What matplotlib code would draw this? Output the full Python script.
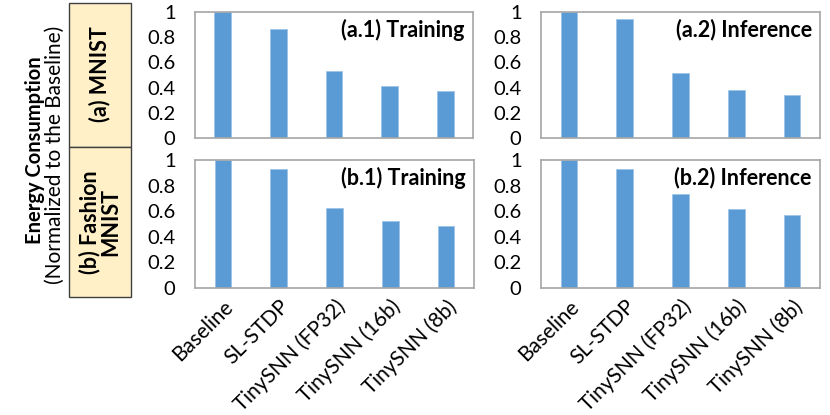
import matplotlib
matplotlib.use("Agg")
import matplotlib.pyplot as plt
from matplotlib.patches import Rectangle
import numpy as np

plt.rcParams['font.family'] = ['Lato', 'DejaVu Sans']

# -------------------------------------------------------------
# data
# -------------------------------------------------------------
methods = ["Baseline", "SL-STDP", "TinySNN (FP32)", "TinySNN (16b)", "TinySNN (8b)"]
mnist_train = [1.0, 0.865, 0.534, 0.415, 0.375]
mnist_infer = [1.0, 0.944, 0.512, 0.381, 0.343]
fashion_train = [1.0, 0.93, 0.624, 0.522, 0.483]
fashion_infer = [1.0, 0.927, 0.738, 0.614, 0.567]
panel_titles = ["(a.1) Training", "(a.2) Inference", "(b.1) Training", "(b.2) Inference"]
yticks = [0, 0.2, 0.4, 0.6, 0.8, 1]
ytick_labels = ["0", "0.2", "0.4", "0.6", "0.8", "1"]

W, H = 830, 415
fig = plt.figure(figsize=(W / 100, H / 100), dpi=100)


def px_axes(x0, y0, x1, y1):
    # pixel box (top-left origin) -> figure axes
    return fig.add_axes([x0 / W, 1 - y1 / H, (x1 - x0) / W, (y1 - y0) / H])


boxes = [(195, 12, 473, 138), (541, 12, 820, 138),
         (195, 160, 474, 288), (541, 160, 820, 288)]
series = [mnist_train, mnist_infer, fashion_train, fashion_infer]

x = np.arange(len(methods))
for i, (b, vals, title) in enumerate(zip(boxes, series, panel_titles)):
    ax = px_axes(*b)
    ax.bar(x, vals, width=0.3, color="#5B9BD5", edgecolor="#9DC3E6", linewidth=0.6)
    ax.set_xlim(-0.5, len(methods) - 0.5)
    ax.set_ylim(0, 1)
    ax.set_yticks(yticks)
    ax.set_yticklabels(ytick_labels)
    ax.tick_params(axis="y", length=0, pad=14, labelsize=14.5)
    ax.tick_params(axis="x", length=0)
    for s in ax.spines.values():
        s.set_color("#A6A6A6")
        s.set_linewidth(1.2)
    ax.text(0.97, 0.86, title, transform=ax.transAxes, ha="right", va="center",
            fontsize=15.5, fontweight="bold")
    if i >= 2:
        ax.set_xticks(x)
        ax.set_xticklabels(methods, rotation=45, ha="right", rotation_mode="anchor",
                           fontsize=15)
        ax.tick_params(axis="x", pad=6)
    else:
        ax.set_xticks([])

# left label boxes
for (y0, y1) in [(3, 147), (147, 297)]:
    fig.add_artist(Rectangle((69 / W, 1 - y1 / H), (131 - 69) / W, (y1 - y0) / H,
                             transform=fig.transFigure, facecolor="#FFF0C8",
                             edgecolor="#404040", linewidth=1.0))
fig.text(100 / W, 1 - 74 / H, "(a) MNIST", rotation=90, ha="center", va="center",
         fontsize=15.5, fontweight="bold")
fig.text(100 / W, 1 - 222 / H, "(b) Fashion\nMNIST", rotation=90, ha="center",
         va="center", fontsize=15.5, fontweight="bold", linespacing=1.0)

fig.text(35 / W, 1 - 150 / H, "Energy Consumption", rotation=90, ha="center",
         va="center", fontsize=14.5, fontweight="bold")
fig.text(55 / W, 1 - 155 / H, "(Normalized to the Baseline)", rotation=90,
         ha="center", va="center", fontsize=15)

fig.savefig("out.png", dpi=100)
